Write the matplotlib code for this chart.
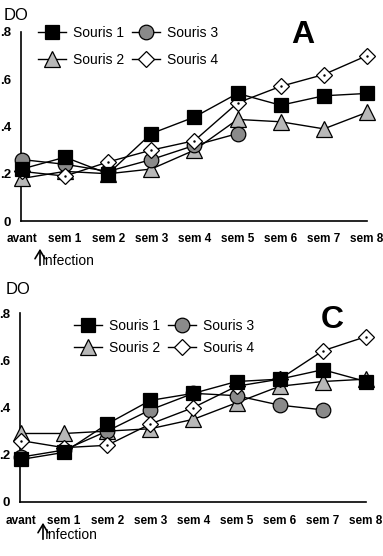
import matplotlib
matplotlib.use("Agg")
import matplotlib.pyplot as plt
from matplotlib.lines import Line2D
from matplotlib.patches import FancyArrowPatch

plt.rcParams['font.family'] = ['Liberation Sans', 'DejaVu Sans']

semaines = ["avant", "sem 1", "sem 2", "sem 3", "sem 4", "sem 5", "sem 6", "sem 7", "sem 8"]
yticks = [0, 0.2, 0.4, 0.6, 0.8]
ytick_labels = ["0", ".2", ".4", ".6", ".8"]

# panel A
a_souris1 = [0.22, 0.27, 0.20, 0.37, 0.44, 0.54, 0.49, 0.53, 0.54]
a_souris2 = [0.18, 0.21, 0.20, 0.22, 0.30, 0.43, 0.42, 0.39, 0.46]
a_souris3 = [0.26, 0.24, 0.21, 0.26, 0.32, 0.37]
a_souris4 = [0.21, 0.19, 0.25, 0.30, 0.34, 0.50, 0.57, 0.62, 0.70]

# panel C
c_souris1 = [0.18, 0.21, 0.33, 0.43, 0.46, 0.51, 0.52, 0.56, 0.51]
c_souris2 = [0.29, 0.29, 0.30, 0.31, 0.35, 0.42, 0.49, 0.51, 0.52]
c_souris3 = [0.19, 0.22, 0.30, 0.39, 0.46, 0.45, 0.41, 0.39]
c_souris4 = [0.26, 0.23, 0.24, 0.33, 0.40, 0.49, 0.52, 0.64, 0.70]

W, H = 383, 556
fig = plt.figure(figsize=(W / 100, H / 100), dpi=100)


def fx(px):
    return px / W


def fy(py):
    return 1 - py / H


styles = {
    "Souris 1": dict(marker="s", ms=10.5, mfc="black", mec="black"),
    "Souris 2": dict(marker="^", ms=11, mfc="#b8b8b8", mec="black"),
    "Souris 3": dict(marker="o", ms=10.5, mfc="#8a8a8a", mec="black"),
    "Souris 4": dict(marker="D", ms=8.5, mfc="white", mec="black"),
}


def panel(rect, series, letter, letter_xy, do_xy, leg_xy, leg_spacing, arrow_xy):
    ax = fig.add_axes(rect)
    order = ["Souris 2", "Souris 3", "Souris 4", "Souris 1"]
    for z, name in enumerate(order):
        vals = series[name]
        ax.plot(range(len(vals)), vals, color="black", lw=1, clip_on=False,
                zorder=3 + z, mew=0.9, **styles[name])
        if name == "Souris 4":
            ax.plot(range(len(vals)), vals, ls="none", marker=".", ms=1.5,
                    color="black", clip_on=False, zorder=3 + z)
    ax.set_xlim(-0.02, 8.0)
    ax.set_ylim(0, 0.8)
    ax.set_xticks(range(len(semaines)))
    ax.set_xticklabels(semaines, fontsize=8.5, fontweight="bold")
    ax.set_yticks(yticks)
    ax.set_yticklabels(ytick_labels, fontsize=9.5, fontweight="bold")
    ax.tick_params(length=0)
    ax.tick_params(axis="x", pad=9)
    ax.tick_params(axis="y", pad=7)
    for s in ["top", "right"]:
        ax.spines[s].set_visible(False)
    ax.spines["left"].set_linewidth(1.2)
    ax.spines["bottom"].set_linewidth(1.2)

    handles = [Line2D([], [], color="black", lw=1, mew=0.9, **styles[n])
               for n in ["Souris 1", "Souris 2", "Souris 3", "Souris 4"]]
    ax.legend(handles, ["Souris 1", "Souris 2", "Souris 3", "Souris 4"], ncol=2,
              loc="upper left", bbox_to_anchor=(fx(leg_xy[0]), fy(leg_xy[1])),
              bbox_transform=fig.transFigure, frameon=False, fontsize=10,
              handlelength=2.0, handletextpad=0.5, columnspacing=0.6,
              labelspacing=leg_spacing, borderpad=0, borderaxespad=0)

    fig.text(fx(letter_xy[0]), fy(letter_xy[1]), letter, fontsize=23,
             fontweight="bold", ha="center", va="center")
    fig.text(fx(do_xy[0]), fy(do_xy[1]), "DO", fontsize=12, ha="left", va="center")
    ax_x, ax_y = arrow_xy
    fig.add_artist(FancyArrowPatch(
        (fx(ax_x), fy(ax_y + 22)), (fx(ax_x), fy(ax_y)),
        transform=fig.transFigure, arrowstyle="->,head_length=0.5,head_width=0.3",
        mutation_scale=12, color="black", lw=1.2))
    fig.text(fx(ax_x + 2), fy(ax_y + 15), "Infection", fontsize=10,
             ha="left", va="center")
    return ax


panel([fx(21), fy(221), fx(367 - 21), (221 - 32) / H],
      {"Souris 1": a_souris1, "Souris 2": a_souris2,
       "Souris 3": a_souris3, "Souris 4": a_souris4},
      "A", (303, 35), (4, 16), (38, 26), 0.95, (40, 246))

panel([fx(20), fy(502), fx(366 - 20), (502 - 313) / H],
      {"Souris 1": c_souris1, "Souris 2": c_souris2,
       "Souris 3": c_souris3, "Souris 4": c_souris4},
      "C", (332, 320), (6, 290), (74, 319), 0.6, (43, 520))

fig.savefig("out.png", dpi=100)
